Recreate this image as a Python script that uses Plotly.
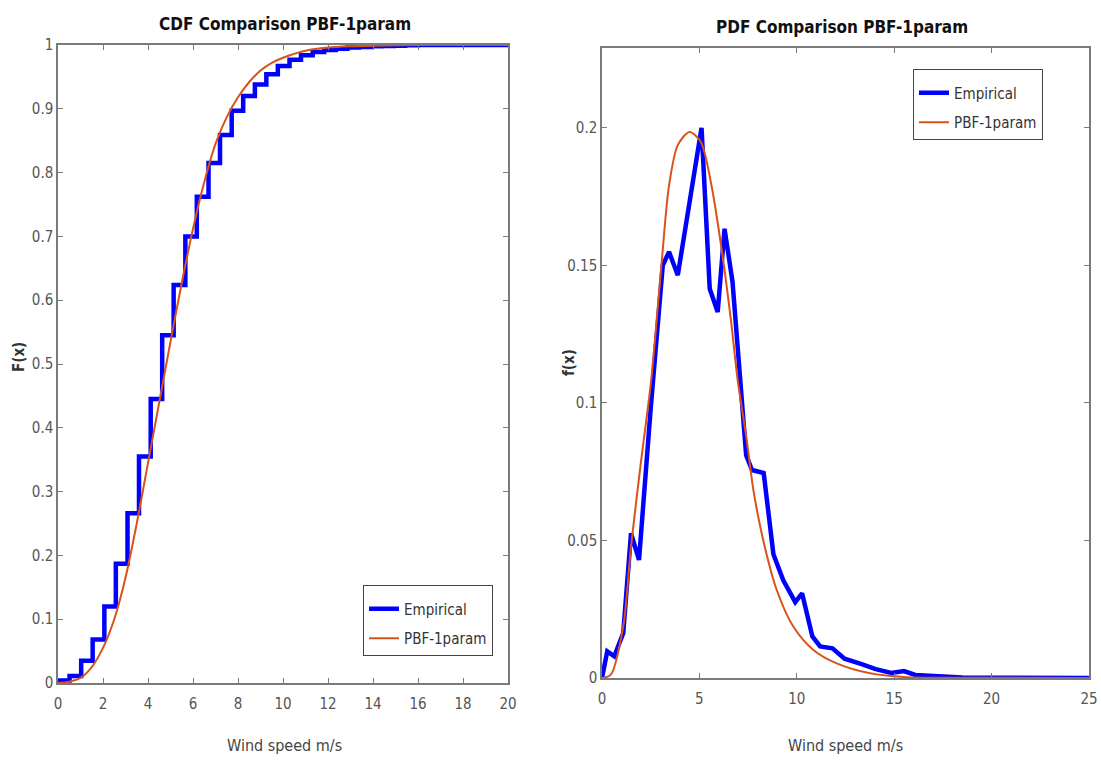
import plotly.graph_objects as go

# ---- CDF panel -------------------------------------------------------------
# Empirical CDF: speeds logged in whole knots, so the steps sit 0.514 m/s apart
cdf_emp_x = [0.0, 0.514, 1.03, 1.54, 2.06, 2.57, 3.09, 3.60, 4.12, 4.63, 5.14,
             5.66, 6.17, 6.69, 7.20, 7.72, 8.23, 8.75, 9.26, 9.77, 10.29,
             10.80, 11.32, 11.83, 12.35, 12.86, 13.38, 13.89, 14.40, 14.92,
             15.43, 16.0, 20.0]
cdf_emp_f = [0.001, 0.004, 0.011, 0.035, 0.068, 0.120, 0.187, 0.266, 0.355,
             0.445, 0.545, 0.624, 0.700, 0.762, 0.815, 0.859, 0.897, 0.920,
             0.938, 0.954, 0.967, 0.977, 0.984, 0.989, 0.992, 0.994, 0.996,
             0.997, 0.998, 0.9985, 0.999, 0.9995, 1.0]

# Fitted PBF-1param CDF
cdf_fit_x = [0.0, 0.5, 1.0, 1.5, 2.0, 2.5, 3.0, 3.5, 4.0, 4.5, 5.0, 5.5, 6.0,
             6.5, 7.0, 7.5, 8.0, 8.5, 9.0, 9.5, 10.0, 11.0, 12.0, 13.0, 14.0,
             16.0, 20.0]
cdf_fit_f = [0.0, 0.002, 0.008, 0.025, 0.055, 0.100, 0.165, 0.250, 0.345,
             0.440, 0.535, 0.627, 0.712, 0.785, 0.845, 0.887, 0.918, 0.942,
             0.960, 0.972, 0.980, 0.991, 0.996, 0.998, 0.999, 1.0, 1.0]

# ---- PDF panel -------------------------------------------------------------
pdf_emp_x = [0.0, 0.27, 0.63, 1.09, 1.49, 1.90, 2.50, 3.12, 3.44, 3.89, 5.11,
             5.53, 5.94, 6.29, 6.70, 7.07, 7.40, 7.70, 8.30, 8.80, 9.30, 9.92,
             10.27, 10.80, 11.20, 11.83, 12.45, 13.25, 14.05, 14.85, 15.50,
             16.08, 17.20, 18.50, 20.0, 25.0]
pdf_emp_f = [0.0, 0.0097, 0.0079, 0.0163, 0.0526, 0.0429, 0.098, 0.150,
             0.1549, 0.1464, 0.200, 0.1415, 0.133, 0.1633, 0.144, 0.108,
             0.081, 0.0756, 0.0745, 0.045, 0.0356, 0.0276, 0.0308, 0.0151,
             0.0115, 0.0108, 0.0070, 0.0052, 0.0032, 0.0018, 0.0025, 0.0011,
             0.0005, 0.0002, 0.0001, 0.0]

pdf_fit_x = [0.0, 0.45, 1.09, 1.49, 1.99, 2.52, 3.05, 3.44, 3.89, 4.49, 5.07,
             5.62, 6.16, 6.61, 6.97, 7.43, 7.77, 8.28, 8.97, 9.82, 10.85,
             12.05, 13.76, 15.64, 18.0, 25.0]
pdf_fit_f = [0.0, 0.0012, 0.0187, 0.0478, 0.078, 0.108, 0.150, 0.179, 0.1937,
             0.1985, 0.1949, 0.179, 0.1549, 0.1306, 0.108, 0.0865, 0.0684,
             0.050, 0.032, 0.0187, 0.0102, 0.0053, 0.0017, 0.0003, 0.0001, 0.0]

cdf_ticks_x = list(range(0, 21, 2))
cdf_ticks_y = [i / 10 for i in range(11)]
cdf_tick_text_y = ["0", "0.1", "0.2", "0.3", "0.4", "0.5", "0.6", "0.7", "0.8",
                   "0.9", "1"]
pdf_ticks_x = [0, 5, 10, 15, 20, 25]
pdf_ticks_y = [0, 0.05, 0.1, 0.15, 0.2]
pdf_tick_text_y = ["0", "0.05", "0.1", "0.15", "0.2"]

BLUE = "#0000FF"
ORANGE = "#D95319"
FONT = "DejaVu Sans Condensed, Liberation Sans Narrow, Liberation Sans, Arial, sans-serif"
AXIS_COL = "#7a7a7a"
TICK_COL = "#555555"

fig = go.Figure()

fig.add_trace(go.Scatter(x=cdf_emp_x, y=cdf_emp_f, mode="lines", name="Empirical",
                         line=dict(color=BLUE, width=4.5, shape="vh"),
                         xaxis="x", yaxis="y", legend="legend", legendgroup="e1"))
fig.add_trace(go.Scatter(x=cdf_fit_x, y=cdf_fit_f, mode="lines", name="PBF-1param",
                         line=dict(color=ORANGE, width=2, shape="spline", smoothing=0.8),
                         xaxis="x", yaxis="y", legend="legend", legendgroup="f1"))
fig.add_trace(go.Scatter(x=pdf_emp_x, y=pdf_emp_f, mode="lines", name="Empirical",
                         line=dict(color=BLUE, width=4.5),
                         xaxis="x2", yaxis="y2", legend="legend2", legendgroup="e2"))
fig.add_trace(go.Scatter(x=pdf_fit_x, y=pdf_fit_f, mode="lines", name="PBF-1param",
                         line=dict(color=ORANGE, width=2, shape="spline", smoothing=0.8),
                         xaxis="x2", yaxis="y2", legend="legend2", legendgroup="f2"))

W, H = 1101, 760


def px_x(p):
    return p / W


def px_y(p):
    return 1 - p / H


axis_common = dict(showline=True, linecolor=AXIS_COL, linewidth=1.5, mirror="ticks",
                   ticks="inside", ticklen=5, tickcolor=AXIS_COL, tickwidth=1,
                   showgrid=False, zeroline=False, automargin=False,
                   tickfont=dict(family=FONT, size=15, color=TICK_COL))

legend_common = dict(xanchor="left", yanchor="top", bgcolor="white",
                     bordercolor="#444444", borderwidth=1, traceorder="grouped",
                     tracegroupgap=7,
                     title=dict(text="&nbsp;", font=dict(family=FONT, size=5)),
                     font=dict(family=FONT, size=15, color="#333333"))

fig.update_layout(
    width=W, height=H,
    margin=dict(l=0, r=0, t=0, b=0, autoexpand=False),
    paper_bgcolor="white", plot_bgcolor="white",
    font=dict(family=FONT, color="#333333"),
    xaxis=dict(domain=[px_x(58), px_x(508)], range=[0, 20], anchor="y",
               tickvals=cdf_ticks_x, ticklabelstandoff=6, **axis_common),
    yaxis=dict(domain=[px_y(683), px_y(45)], range=[0, 1], anchor="x",
               tickvals=cdf_ticks_y, ticktext=cdf_tick_text_y, **axis_common),
    xaxis2=dict(domain=[px_x(602), px_x(1089)], range=[0, 25], anchor="y2",
                tickvals=pdf_ticks_x, ticklabelstandoff=6, **axis_common),
    yaxis2=dict(domain=[px_y(678), px_y(48)], range=[0, 0.229], anchor="x2",
                tickvals=pdf_ticks_y, ticktext=pdf_tick_text_y, **axis_common),
    legend=dict(x=px_x(363), y=px_y(585), **legend_common),
    legend2=dict(x=px_x(913), y=px_y(69), **legend_common),
    showlegend=True,
)

titles = [
    ("CDF Comparison PBF-1param", 285, 24),
    ("PDF Comparison PBF-1param", 842, 27),
]
for text, cx, cy in titles:
    fig.add_annotation(text=f"<b>{text}</b>", x=px_x(cx), y=px_y(cy), xref="paper",
                       yref="paper", showarrow=False, xanchor="center", yanchor="middle",
                       font=dict(family=FONT, size=17, color="#111111"))

for cx in (284, 845):
    fig.add_annotation(text="Wind speed m/s", x=px_x(cx), y=px_y(745), xref="paper",
                       yref="paper", showarrow=False, xanchor="center", yanchor="middle",
                       font=dict(family=FONT, size=16, color="#444444"))

for text, cx, cy in (("F(x)", 19, 357), ("f(x)", 569, 363)):
    fig.add_annotation(text=f"<b>{text}</b>", x=px_x(cx), y=px_y(cy), xref="paper",
                       yref="paper", showarrow=False, xanchor="center", yanchor="middle",
                       textangle=-90, font=dict(family=FONT, size=15, color="#333333"))

fig.write_html("out.html")
